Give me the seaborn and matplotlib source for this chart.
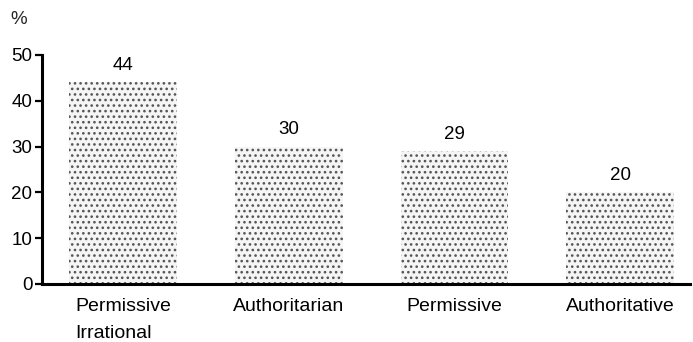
import matplotlib
matplotlib.use("Agg")
import matplotlib.pyplot as plt
import seaborn as sns
import pandas as pd

categories = ["Permissive\nIrrational", "Authoritarian", "Permissive", "Authoritative"]
values = [44, 30, 29, 20]
yticks = [0, 10, 20, 30, 40, 50]

sns.set_theme(style="white")
plt.rcParams['font.family'] = ['Liberation Sans', 'DejaVu Sans']
plt.rcParams['hatch.linewidth'] = 1.1

df = pd.DataFrame({"cat": categories, "val": values})

fig = plt.figure(figsize=(6.93, 3.42), dpi=100)
ax = fig.add_axes([0.0606, 0.1696, 0.935, 0.6696])

sns.barplot(data=df, x="cat", y="val", ax=ax, width=0.65, color="#f5f5f5",
            saturation=1, edgecolor="#555555", linewidth=0, hatch="...")

ax.bar_label(ax.containers[0], fmt="%d", padding=6, fontsize=13.5, color="black")

ax.set_ylim(0, 50)
ax.set_xlim(-0.49, 3.42)
ax.set_yticks(yticks)
ax.set_xlabel("")
ax.set_ylabel("")
for s in ["top", "right"]:
    ax.spines[s].set_visible(False)
for s in ["left", "bottom"]:
    ax.spines[s].set_linewidth(2.2)
    ax.spines[s].set_color("black")

ax.tick_params(axis="y", length=5, width=1.6, direction="out", labelsize=13.5,
               pad=2, colors="black", left=True)
ax.tick_params(axis="x", length=0, labelsize=14, pad=10, colors="black")
for lbl in ax.get_xticklabels():
    lbl.set_multialignment("left")
    lbl.set_linespacing(1.75)
    lbl.set_verticalalignment("top")

fig.text(10 / 693, 1 - 20 / 342, "%", fontsize=13.5, va="center", ha="left")

fig.savefig("out.png", dpi=100)
